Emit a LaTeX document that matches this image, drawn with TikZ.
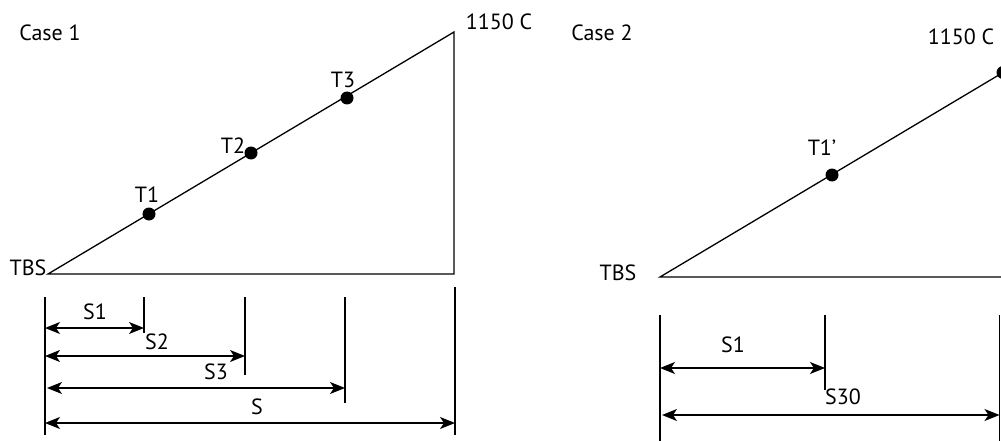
\documentclass[tikz,border=0pt]{standalone}
\usepackage{fontspec}
\setmainfont{PT Sans}
\usetikzlibrary{arrows.meta}
\begin{document}
\begin{tikzpicture}[x=1pt,y=-1pt,
  line width=1.3pt,
  every node/.style={inner sep=0pt, font=\fontsize{22}{26}\selectfont},
  dot/.style={circle, fill=black, minimum size=13pt, inner sep=0pt},
  lbl/.style={anchor=center},
  dim/.style={{Stealth[length=15pt,width=12pt,inset=4pt]}-{Stealth[length=15pt,width=12pt,inset=4pt]}},
  extline/.style={line width=1.3pt}]
\useasboundingbox (0,0) rectangle (1001,441);
\clip (0,0) rectangle (1001,441);

% ---------------- Case 1 ----------------
\node[lbl] (case1) at (50,33) {Case 1};
\coordinate (a0) at (48,274);
\coordinate (a1) at (454,32);
\coordinate (a2) at (454,274);
\draw (a0) -- (a1) -- (a2) -- cycle;
\node[lbl] (tbs1) at (28,268) {TBS};
\node[lbl] (hot1) at (499,22) {1150 C};

\node[dot] (t1) at (149,214) {};
\node[dot] (t2) at (251,153) {};
\node[dot] (t3) at (347,98) {};
\node[lbl] (t1l) at (147,195) {T1};
\node[lbl] (t2l) at (233,146) {T2};
\node[lbl] (t3l) at (343,80) {T3};

% extension lines
\coordinate (e0t) at (45,297);  \coordinate (e0b) at (45,435);
\coordinate (e1t) at (144,297); \coordinate (e1b) at (144,333);
\coordinate (e2t) at (245,297); \coordinate (e2b) at (245,375);
\coordinate (e3t) at (345,297); \coordinate (e3b) at (345,403);
\coordinate (e4t) at (455,287); \coordinate (e4b) at (455,435);
\foreach \e in {0,...,4} \draw[extline] (e\e t) -- (e\e b);

% dimension arrows
\coordinate (s1a) at (45,328);  \coordinate (s1b) at (144,328);
\coordinate (s2a) at (45,356);  \coordinate (s2b) at (245,356);
\coordinate (s3a) at (47,388);  \coordinate (s3b) at (345,388);
\coordinate (sa)  at (45,423);  \coordinate (sb)  at (455,423);
\draw[dim] (s1a) -- (s1b);
\draw[dim] (s2a) -- (s2b);
\draw[dim] (s3a) -- (s3b);
\draw[dim] (sa) -- (sb);
\node[lbl] (s1l) at (95,312) {S1};
\node[lbl] (s2l) at (157,342) {S2};
\node[lbl] (s3l) at (216,372) {S3};
\node[lbl] (sl)  at (257,407) {S};

% ---------------- Case 2 ----------------
\node[lbl] (case2) at (602,33) {Case 2};
\coordinate (b0) at (660,277);
\coordinate (b1) at (1003,72.5);
\coordinate (b2) at (1003,277);
\draw (b0) -- (b1) -- (b2) -- cycle;
\node[lbl] (tbs2) at (618,273) {TBS};
\node[lbl] (hot2) at (961,37) {1150 C};

\node[dot] (u1) at (832,175) {};
\node[dot] (u2) at (b1) {};
\node[lbl] (u1l) at (822,148) {T1’};

% extension lines
\coordinate (f0t) at (660,315);  \coordinate (f0b) at (660,441);
\coordinate (f1t) at (825,315);  \coordinate (f1b) at (825,390);
\coordinate (f2t) at (999.5,315); \coordinate (f2b) at (999.5,441);
\foreach \e in {0,1,2} \draw[extline] (f\e t) -- (f\e b);

% dimension arrows
\coordinate (r1a) at (660,368);  \coordinate (r1b) at (825,368);
\coordinate (r2a) at (662,415);  \coordinate (r2b) at (999.5,415);
\draw[dim] (r1a) -- (r1b);
\draw[dim] (r2a) -- (r2b);
\node[lbl] (r1l) at (733,345) {S1};
\node[lbl] (r2l) at (843,397) {S30};
\end{tikzpicture}
\end{document}
